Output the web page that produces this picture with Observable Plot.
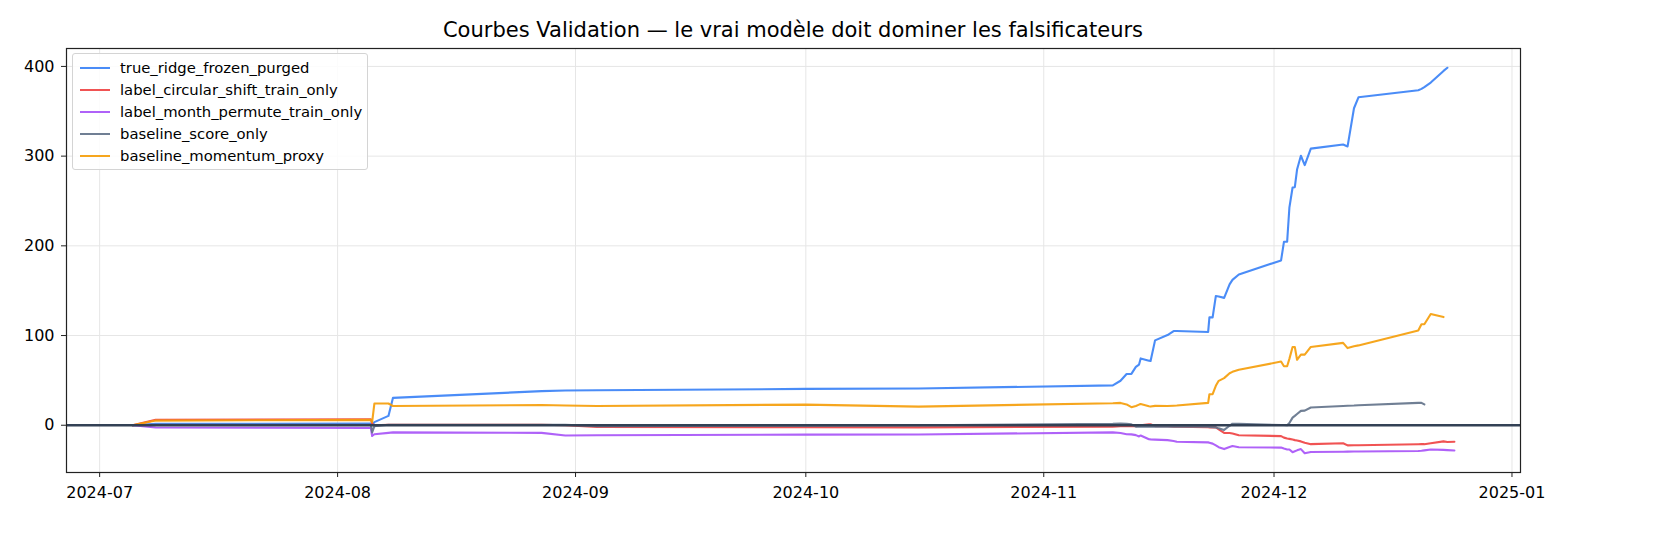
<!DOCTYPE html>
<html>
<head>
<meta charset="utf-8">
<script src="https://cdn.jsdelivr.net/npm/d3@7"></script>
<script src="https://cdn.jsdelivr.net/npm/@observablehq/plot@0.6"></script>
<style>
  html, body { margin: 0; padding: 0; background: #fff; }
  #wrap { position: relative; width: 1680px; height: 560px; font-family: "DejaVu Sans", sans-serif; }
  #title { position: absolute; left: 66px; width: 1454px; top: 17px; height: 26px; line-height: 26px;
           text-align: center; font-size: 21px; color: #000; }
  #legend { position: absolute; left: 72px; top: 53px; width: 296px; height: 117px; box-sizing: border-box;
            border: 1px solid #d4d4d4; border-radius: 3px; background: rgba(255,255,255,0.85); }
  .row { position: absolute; left: 0; height: 22px; line-height: 22px; font-size: 14.8px; white-space: nowrap; }
  .sw { position: absolute; left: 7px; top: 10px; width: 30px; height: 2.2px; }
  .lb { position: absolute; left: 47px; top: 0; }
</style>
</head>
<body>
<div id="wrap">
  <div id="chart"></div>
  <div id="title">Courbes Validation — le vrai modèle doit dominer les falsificateurs</div>
  <div id="legend"></div>
</div>
<script>
const dates = ["2024-07-05T07:00Z","2024-07-08T07:00Z","2024-08-05T08:00Z","2024-08-05T12:00Z","2024-08-05T19:00Z","2024-08-07T15:00Z","2024-08-08T05:00Z","2024-08-27T14:00Z","2024-08-30T16:00Z","2024-09-03T19:00Z","2024-10-01T00:00Z","2024-10-15T17:00Z","2024-11-10T00:00Z","2024-11-11T00:00Z","2024-11-11T19:00Z","2024-11-12T10:00Z","2024-11-13T00:00Z","2024-11-13T10:00Z","2024-11-13T15:00Z","2024-11-14T17:00Z","2024-11-14T22:00Z","2024-11-15T12:00Z","2024-11-17T03:00Z","2024-11-17T22:00Z","2024-11-18T08:00Z","2024-11-22T10:00Z","2024-11-22T14:00Z","2024-11-23T00:00Z","2024-11-23T10:00Z","2024-11-23T19:00Z","2024-11-24T12:00Z","2024-11-25T05:00Z","2024-11-25T14:00Z","2024-11-26T10:00Z","2024-12-01T22:00Z","2024-12-02T07:00Z","2024-12-02T17:00Z","2024-12-03T00:00Z","2024-12-03T10:00Z","2024-12-03T17:00Z","2024-12-04T00:00Z","2024-12-04T12:00Z","2024-12-05T00:00Z","2024-12-05T19:00Z","2024-12-10T00:00Z","2024-12-10T14:00Z","2024-12-11T10:00Z","2024-12-12T00:00Z","2024-12-19T19:00Z","2024-12-20T05:00Z","2024-12-20T14:00Z","2024-12-21T10:00Z","2024-12-23T02:00Z","2024-12-23T14:00Z","2024-12-24T12:00Z"];

const trueRidge = [0,1.5,2,0,3.5,10.4,30.5,38,38.7,39,40.5,41,44.4,49.6,57.2,57.2,65,67.6,74.5,72,71.7,94.6,100.5,105,105,104,120.3,120.3,144,143.5,142,157,162,168,183.7,204.5,204.5,242.5,265,265.4,285,300.4,290,308.4,312.9,310.8,353.4,365.6,373.5,375,377,382,395,398.5,null];
const circularShift = [0,6,6.5,2,0,0.5,0.5,0.5,0,-2,-2.2,-2.4,-1.5,-1,-1,-1,-1,-0.5,0,1,1,-1,-1.2,-1.5,-1.5,-2.3,-2.4,-2.4,-2.4,-4.5,-8.6,-8.6,-9.2,-11.2,-12.1,-13.8,-14.8,-15.2,-16,-16.6,-17,-18,-19.5,-21.1,-20.1,-22.5,-22.3,-22.3,-21.2,-21.1,-21.1,-20,-18,-18.7,-18.4];
const monthPermute = [0,-2.5,-3,-12,-10,-8.5,-8,-8.5,-11.4,-11.2,-10.5,-10.3,-8,-8.6,-10,-10.2,-11,-12.5,-11.4,-15.6,-15.8,-16,-16.6,-17.5,-18.4,-19.1,-19.5,-20.5,-22.5,-24.5,-26.6,-24.3,-23.2,-24.6,-24.9,-26,-27,-27,-30,-29,-28,-26.6,-31.2,-29.8,-29.5,-29.4,-29.3,-29.2,-28.8,-28.5,-28,-27,-27.5,-27.7,-28.1];
const scoreOnly = [0,0.5,0.5,-8,-1,0.5,0.5,0.5,0.5,-1,-0.5,0,1.5,1.8,1.5,1,-1.5,-1.7,-1.7,-1.7,-1.7,-1.7,-1.7,-1.7,-1.7,-1.7,-2,-2.2,-2.4,-3.5,-5.2,-0.6,1.7,1.5,0.3,0.2,0,2.5,8.5,10.4,12.5,16,16.3,19.8,21.5,21.8,22,22.3,24.9,25,23.2,null,null,null,null];
const momentumProxy = [0,5.2,6,3.5,24.2,24.2,21.5,22.5,22,21.5,23,20.8,24.5,24.9,23.2,20.1,21.5,23,23.6,21.2,20.8,21.6,21.5,21.8,22,24.9,34.6,34.6,44,49.5,52.5,57.9,59.5,61.8,71,65.8,65.8,74,87.3,87.3,73,78.7,78.7,87.3,91.8,86,88,89,105.7,112.6,112.6,124,120.6,null,null];

const seriesNames = ["true_ridge_frozen_purged","label_circular_shift_train_only","label_month_permute_train_only","baseline_score_only","baseline_momentum_proxy"];
const seriesColors = ["#3b82f6","#ef4444","#a855f7","#64748b","#f59e0b"];
const seriesValues = [trueRidge, circularShift, monthPermute, scoreOnly, momentumProxy];

const xTicks = ["2024-07-01","2024-08-01","2024-09-01","2024-10-01","2024-11-01","2024-12-01","2025-01-01"];
const yTicks = [0,100,200,300,400];

const parsedDates = dates.map(d => new Date(d));
const xTickDates = xTicks.map(d => new Date(d + "T00:00Z"));

// matplotlib-like 5% margins around the data extent
const allVals = seriesValues.flat().filter(v => v != null);
const [tMin, tMax] = d3.extent(parsedDates);
const tPad = (tMax - tMin) * 0.05;
const [vMin, vMax] = d3.extent(allVals);
const vPad = (vMax - vMin) * 0.05;

const lineMarks = seriesValues.map((vals, k) => {
  const rows = [];
  vals.forEach((v, i) => { if (v != null) rows.push({date: parsedDates[i], value: v}); });
  return Plot.line(rows, {x: "date", y: "value", stroke: seriesColors[k], strokeOpacity: 0.92, strokeWidth: 2.1, curve: "linear"});
});

const chart = Plot.plot({
  width: 1680,
  height: 560,
  marginLeft: 66,
  marginRight: 160,
  marginTop: 48,
  marginBottom: 88,
  style: {fontFamily: "DejaVu Sans, sans-serif", fontSize: "16px", color: "#000", background: "#fff"},
  x: {type: "utc", domain: [new Date(+tMin - tPad), new Date(+tMax + tPad)]},
  y: {domain: [vMin - vPad, vMax + vPad]},
  marks: [
    Plot.ruleX(xTickDates, {stroke: "#e6e6e6", strokeWidth: 1}),
    Plot.ruleY(yTicks, {stroke: "#e6e6e6", strokeWidth: 1}),
    ...lineMarks,
    Plot.ruleY([0], {stroke: "#334155", strokeWidth: 2.4}),
    Plot.frame({stroke: "#222", strokeWidth: 1.2}),
    Plot.axisX({ticks: xTickDates, tickFormat: d3.utcFormat("%Y-%m"), tickSize: 5, tickPadding: 9, label: null, stroke: "#222"}),
    Plot.axisY({ticks: yTicks, tickSize: 5, tickPadding: 7, label: null, stroke: "#222"})
  ]
});
document.getElementById("chart").appendChild(chart);

const legend = document.getElementById("legend");
seriesNames.forEach((name, i) => {
  const row = document.createElement("div");
  row.className = "row";
  row.style.top = (2.5 + i * 22) + "px";
  row.style.width = "100%";
  const sw = document.createElement("span");
  sw.className = "sw";
  sw.style.background = seriesColors[i];
  sw.style.opacity = 0.92;
  const lb = document.createElement("span");
  lb.className = "lb";
  lb.textContent = name;
  row.appendChild(sw);
  row.appendChild(lb);
  legend.appendChild(row);
});
</script>
</body>
</html>
